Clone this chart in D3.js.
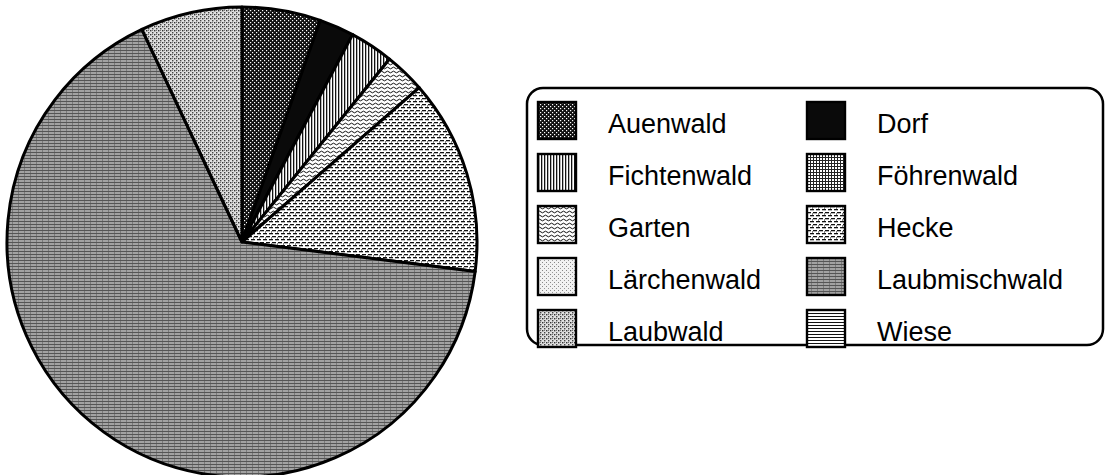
<!DOCTYPE html>
<html>
<head>
<meta charset="utf-8">
<script src="https://cdn.jsdelivr.net/npm/d3@7"></script>
<style>
  body { margin: 0; background: #fff; }
  svg { display: block; font-family: "Liberation Sans", Arial, sans-serif; }
</style>
</head>
<body>
<svg id="chart" width="1105" height="475"></svg>
<script>
// land use shares (%), clockwise from 12 o'clock
var categories = ["Auenwald", "Dorf", "Fichtenwald", "Föhrenwald", "Garten",
                  "Hecke", "Lärchenwald", "Laubmischwald", "Laubwald", "Wiese"];
var shares = [5.4, 2.4, 3.0, 0, 2.8, 13.4, 0, 66.0, 7.0, 0];
var patternIds = ["pAuen", "pDorf", "pFichte", "pFoehre", "pGarten",
                  "pHecke", "pLaerche", "pLaubmisch", "pLaubwald", "pWiese"];

var data = categories.map(function(c, i) { return {name: c, value: shares[i], pat: patternIds[i]}; });

var svg = d3.select("#chart");
var defs = svg.append("defs");

function pattern(id, w, h, bg) {
  var p = defs.append("pattern").attr("id", id)
    .attr("patternUnits", "userSpaceOnUse").attr("width", w).attr("height", h);
  p.append("rect").attr("width", w).attr("height", h).attr("fill", bg);
  return p;
}

// Auenwald: black with white dots
var p = pattern("pAuen", 4, 4, "#111");
p.append("rect").attr("x", 0).attr("y", 0).attr("width", 1.2).attr("height", 1.2).attr("fill", "#fff");
p.append("rect").attr("x", 2).attr("y", 2).attr("width", 1.2).attr("height", 1.2).attr("fill", "#fff");

// Dorf: solid black
pattern("pDorf", 4, 4, "#0a0a0a");

// Fichtenwald: vertical lines
p = pattern("pFichte", 3, 3, "#fff");
p.append("rect").attr("x", 0).attr("width", 1.3).attr("height", 3).attr("fill", "#111");

// Föhrenwald: fine grid
p = pattern("pFoehre", 3, 3, "#fff");
p.append("rect").attr("width", 1).attr("height", 3).attr("fill", "#222");
p.append("rect").attr("width", 3).attr("height", 1).attr("fill", "#222");

// Garten: wavy lines
p = pattern("pGarten", 6, 4, "#fff");
p.append("path").attr("d", "M0,2 Q1.5,0.3 3,2 T6,2").attr("fill", "none")
  .attr("stroke", "#111").attr("stroke-width", 1);

// Hecke: brick dashes
p = pattern("pHecke", 6, 6, "#fff");
p.append("rect").attr("x", 0).attr("y", 0).attr("width", 4).attr("height", 1.3).attr("fill", "#111");
p.append("rect").attr("x", 3).attr("y", 3).attr("width", 3).attr("height", 1.3).attr("fill", "#111");
p.append("rect").attr("x", 0).attr("y", 3).attr("width", 1).attr("height", 1.3).attr("fill", "#111");
p.append("rect").attr("x", 5).attr("y", 1).attr("width", 0.8).attr("height", 2).attr("fill", "#666");

// Lärchenwald: light stipple
p = pattern("pLaerche", 4, 4, "#f2f2f2");
p.append("rect").attr("x", 0).attr("y", 0).attr("width", 1).attr("height", 1).attr("fill", "#888");
p.append("rect").attr("x", 2).attr("y", 2).attr("width", 1).attr("height", 1).attr("fill", "#999");

// Laubmischwald: mid gray with horizontal texture
p = pattern("pLaubmisch", 6, 3, "#a2a2a2");
p.append("rect").attr("y", 0).attr("width", 6).attr("height", 1).attr("fill", "#555");
p.append("rect").attr("x", 4).attr("y", 1).attr("width", 1).attr("height", 2).attr("fill", "#7a7a7a");

// Laubwald: speckled dots
p = pattern("pLaubwald", 4, 4, "#e0e0e0");
p.append("rect").attr("x", 0).attr("y", 0).attr("width", 1.4).attr("height", 1.4).attr("fill", "#333");
p.append("rect").attr("x", 2).attr("y", 2).attr("width", 1.4).attr("height", 1.4).attr("fill", "#444");
p.append("rect").attr("x", 2).attr("y", 0).attr("width", 1).attr("height", 1).attr("fill", "#777");

// Wiese: horizontal lines
p = pattern("pWiese", 3, 3, "#fff");
p.append("rect").attr("width", 3).attr("height", 1).attr("fill", "#111");

// pie
var cx = 242, cy = 242, radius = 235;

var pie = d3.pie().sort(null).value(function(d) { return d.value; });
var arc = d3.arc().innerRadius(0).outerRadius(radius);

var g = svg.append("g").attr("transform", "translate(" + cx + "," + cy + ")");

g.selectAll("path.slice")
  .data(pie(data).filter(function(d) { return d.data.value > 0; }))
  .enter().append("path")
  .attr("class", "slice")
  .attr("d", arc)
  .attr("fill", function(d) { return "url(#" + d.data.pat + ")"; })
  .attr("stroke", "#000")
  .attr("stroke-width", 3)
  .attr("stroke-linejoin", "round");

// legend
var legend = svg.append("g");

legend.append("rect")
  .attr("x", 527).attr("y", 88)
  .attr("width", 576).attr("height", 257)
  .attr("rx", 16).attr("ry", 16)
  .attr("fill", "#fff")
  .attr("stroke", "#000")
  .attr("stroke-width", 2.5);

var col = d3.scaleOrdinal().domain([0, 1]).range([538, 807]);
var row = d3.scaleBand().domain(d3.range(5)).range([102, 362]);

var item = legend.selectAll(".item")
  .data(data)
  .enter().append("g")
  .attr("class", "item")
  .attr("transform", function(d, i) { return "translate(" + col(i % 2) + "," + row(Math.floor(i / 2)) + ")"; });

item.append("rect")
  .attr("width", 38).attr("height", 37)
  .attr("fill", function(d) { return "url(#" + d.pat + ")"; })
  .attr("stroke", "#000")
  .attr("stroke-width", 2.4);

item.append("text")
  .attr("x", 70).attr("y", 31)
  .attr("font-size", 27)
  .attr("fill", "#000")
  .text(function(d) { return d.name; });
</script>
</body>
</html>
